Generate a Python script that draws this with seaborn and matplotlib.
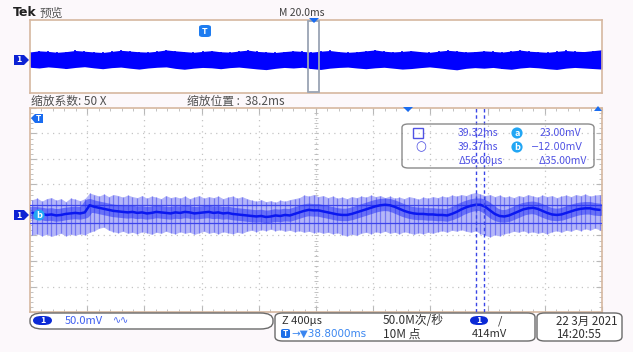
import numpy as np
import pandas as pd
import matplotlib
matplotlib.use("Agg")
import matplotlib.pyplot as plt
import seaborn as sns
from matplotlib.patches import FancyBboxPatch, Rectangle, Polygon

W, H = 633, 352

# ---------------- data ----------------
# zoomed window: 400 us/div, centred on 38.2 ms (times in ms, voltages in mV)
zoom_center_ms = 38.2
zoom_span_ms = 4.0
n_zoom = 120

spike_hi = [34, 37, 31, 36, 38, 33, 36, 30, 37, 35,
            32, 36, 47, 44, 41, 45, 40, 44, 42, 39,
            43, 40, 38, 42, 37, 41, 39, 36, 42, 38,
            40, 37, 41, 36, 39, 42, 37, 40, 38, 41,
            36, 39, 41, 37, 40, 36, 33, 31, 34, 30,
            32, 29, 33, 31, 34, 36, 38, 43, 41, 44,
            40, 42, 38, 41, 37, 39, 36, 40, 38, 41,
            39, 43, 40, 42, 38, 41, 37, 39, 36, 40,
            38, 35, 39, 37, 40, 38, 41, 39, 43, 41,
            44, 42, 46, 48, 45, 42, 44, 40, 43, 39,
            41, 38, 42, 40, 44, 41, 39, 43, 40, 42,
            38, 41, 43, 40, 44, 42, 45, 41, 43, 44]

spike_lo = [-36, -33, -37, -34, -38, -35, -32, -37, -34, -36,
            -33, -35, -30, -27, -22, -20, -26, -29, -31, -28,
            -32, -30, -33, -29, -31, -34, -30, -32, -28, -31,
            -33, -29, -32, -30, -34, -31, -28, -32, -30, -33,
            -29, -31, -33, -30, -32, -28, -26, -29, -25, -27,
            -24, -27, -25, -28, -26, -29, -27, -30, -28, -31,
            -29, -32, -30, -33, -31, -35, -37, -34, -36, -32,
            -30, -33, -29, -31, -28, -32, -30, -33, -29, -31,
            -34, -31, -33, -30, -32, -29, -27, -30, -26, -28,
            -25, -28, -30, -27, -33, -36, -39, -35, -37, -33,
            -31, -28, -30, -27, -31, -29, -32, -30, -33, -29,
            -27, -30, -26, -28, -24, -27, -23, -26, -22, -25]

trace_mid = [8, 7, 6, 4, 5, 3, 4, 6, 7, 8,
             7, 9, 23, 20, 18, 16, 14, 12, 11, 10,
             9, 10, 8, 9, 7, 8, 10, 9, 8, 7,
             9, 8, 10, 9, 7, 8, 9, 10, 8, 9,
             7, 8, 6, 5, 4, 3, 2, 1, 2, 0,
             1, 3, 2, 4, 3, 6, 9, 12, 14, 13,
             13, 11, 9, 7, 5, 4, 4, 6, 9, 12,
             15, 18, 21, 23, 24, 23, 20, 16, 12, 9,
             7, 6, 6, 5, 5, 4, 4, 3, 6, 10,
             15, 19, 22, 24, 24, 20, 13, 6, 2, 1,
             3, 7, 11, 15, 17, 18, 16, 12, 8, 5,
             4, 5, 8, 11, 14, 16, 17, 17, 15, 14]

# cursors
cursor_t = [39.32, 39.376]
cursor_v = [23.0, -12.0]

# overview record: 20 ms/div
ov_left_ms = -60.9
ov_span_ms = 200.0
ov_hi = [44, 50, 47, 42, 46, 52, 48, 44, 41, 47, 53, 49, 45, 43, 48, 55,
         50, 46, 42, 47, 51, 45, 43, 49, 54, 47, 44, 41, 46, 50, 47, 43,
         48, 52, 46, 42, 45, 50, 55, 48, 44, 47, 51, 46, 42, 48, 53, 49,
         44, 46, 50, 47, 43, 49, 54, 48, 45, 42, 47, 52, 48, 46, 51, 56]
ov_lo = [-40, -44, -38, -42, -47, -41, -37, -43, -48, -42, -39, -45, -50, -44, -40, -38,
         -46, -51, -45, -41, -43, -48, -42, -39, -44, -49, -53, -46, -41, -44, -40, -47,
         -52, -45, -41, -39, -44, -48, -43, -40, -45, -50, -47, -42, -38, -43, -49, -54,
         -46, -42, -45, -41, -47, -51, -44, -40, -43, -48, -52, -45, -41, -44, -47, -50]

# ---------------- style ----------------
BG = "#fcf8fb"
FRAME = "#d6b8a0"
GRID = "#c4c4c4"
TRACE = "#0a18f0"
LIGHT = "#b4b6f8"
SPIKE = "#6a6ef2"
READ = "#5052e4"

sns.set_theme(style="white")
plt.rcParams["font.family"] = ["Noto Sans CJK SC", "DejaVu Sans"]
plt.rcParams["axes.unicode_minus"] = False

fig = plt.figure(figsize=(W / 100, H / 100), dpi=100, facecolor=BG)


def fx(x):
    return x / W


def fy(y):
    return 1 - y / H


def rect(x0, y0, x1, y1):
    return [fx(x0), fy(y1), (x1 - x0) / W, (y1 - y0) / H]


def ftext(x, y, s, **kw):
    kw.setdefault("va", "center")
    kw.setdefault("ha", "left")
    return fig.text(fx(x), fy(y), s, **kw)


def fpoly(pts, **kw):
    p = Polygon([(fx(a), fy(b)) for a, b in pts], closed=True,
                transform=fig.transFigure, **kw)
    fig.patches.append(p)
    return p


def fbox(x0, y0, x1, y1, style="round,pad=0,rounding_size=0.012", **kw):
    p = FancyBboxPatch((fx(x0), fy(y1)), (x1 - x0) / W, (y1 - y0) / H,
                       boxstyle=style, transform=fig.transFigure, **kw)
    fig.patches.append(p)
    return p


# ---------------- overview ----------------
ov = fig.add_axes(rect(30, 20, 602, 93))
ov.set_facecolor("white")
ov_t = np.linspace(ov_left_ms, ov_left_ms + ov_span_ms, len(ov_hi))
ov_df = pd.DataFrame({"t": ov_t, "hi": ov_hi, "lo": ov_lo})
ov.fill_between(ov_df["t"], ov_df["lo"], ov_df["hi"], color="#0000ff", lw=0)
ov.vlines(ov_df["t"], ov_df["lo"], ov_df["hi"], color="#0000ff", lw=1.2)
ov.set_xlim(ov_left_ms, ov_left_ms + ov_span_ms)
ov.set_ylim(-181, 219)
ov.set_xticks([])
ov.set_yticks([])
for s in ov.spines.values():
    s.set_color(FRAME)
    s.set_linewidth(1.2)
ov.add_patch(Rectangle((zoom_center_ms - zoom_span_ms / 2, -178), zoom_span_ms, 392,
                       fill=False, ec="#9aa4b4", lw=1.3, zorder=5))

# ---------------- zoomed window ----------------
ax = fig.add_axes(rect(30, 108, 602, 312))
ax.set_facecolor("white")
t0 = zoom_center_ms - zoom_span_ms / 2
t = t0 + (np.arange(n_zoom) + 0.5) * zoom_span_ms / n_zoom
df = pd.DataFrame({"t": t, "hi": spike_hi, "lo": spike_lo, "mid": trace_mid})

y_top, y_bot = 213.7, -186.3
ax.set_xlim(t0, t0 + zoom_span_ms)
ax.set_ylim(y_bot, y_top)

# graticule
gx = t0 + np.arange(1, 10) * 0.4
gy = y_top - np.arange(1, 8) * 50
for v in gx:
    ax.axvline(v, color=GRID, lw=0.9, ls=(0, (1, 3.5)), zorder=0)
for v in gy:
    ax.axhline(v, color=GRID, lw=0.9, ls=(0, (1, 3.5)), zorder=0)
ax.set_xticks(np.append(gx, [t0, t0 + zoom_span_ms]))
ax.set_yticks(np.append(gy, [y_bot, y_top]))
ax.set_xticks(t0 + np.arange(0, 51) * 0.08, minor=True)
ax.set_yticks(y_top - np.arange(0, 41) * 10, minor=True)
ax.tick_params(which="both", direction="in", top=True, right=True, bottom=True, left=True,
               labelbottom=False, labelleft=False, color="#b8b8b8")
ax.tick_params(which="major", length=4, width=0.8)
ax.tick_params(which="minor", length=2.5, width=0.6)
for s in ax.spines.values():
    s.set_color(FRAME)
    s.set_linewidth(1.2)
# centre cross ticks
cx = zoom_center_ms
cy = y_top - 4 * 50
ax.scatter(t0 + np.arange(1, 50) * 0.08, np.full(49, cy), marker="|", s=12,
           color="#b8b8b8", lw=0.6, zorder=0)
ax.scatter(np.full(39, cx), y_top - np.arange(1, 40) * 10, marker="_", s=12,
           color="#b8b8b8", lw=0.6, zorder=0)

# waveform
ax.fill_between(df["t"], df["lo"], df["hi"], color=LIGHT, lw=0, zorder=2)
ax.vlines(df["t"], df["lo"], df["hi"], color=SPIKE, lw=0.9, alpha=0.85, zorder=3)
ax.axhline(cursor_v[0], color="#3c44ea", lw=0.9, zorder=4)
ax.axhline(cursor_v[1], color="#3c44ea", lw=0.9, zorder=4)
sns.lineplot(data=df, x="t", y="mid", ax=ax, color="#1e2cf6", lw=9, alpha=0.5, zorder=5)
sns.lineplot(data=df, x="t", y="mid", ax=ax, color=TRACE, lw=1.8, zorder=6)
ax.set_xlabel("")
ax.set_ylabel("")
for ct in cursor_t:
    ax.axvline(ct, color="#3a46e6", lw=1.0, ls=(0, (2.5, 2)), zorder=7)

# ---------------- header texts ----------------
ftext(13, 13, "Tek", fontsize=9, fontweight="bold", color="#202020", family=["DejaVu Sans"])
ftext(40, 13, "预览", fontsize=8.5, color="#555555")
ftext(279, 13, "M 20.0ms", fontsize=7.5, color="#404040")
ftext(31, 101, "缩放系数: 50 X", fontsize=8.5, color="#505050")
ftext(187, 101, "缩放位置 :  38.2ms", fontsize=8.5, color="#505050")

# markers: overview
fpoly([(14, 55), (24, 55), (29, 60), (24, 65), (14, 65)], fc="#0c22d4", ec="none")
ftext(19, 60, "1", fontsize=6.5, color="white", fontweight="bold", ha="center")
fbox(199, 25, 211, 37, fc="#1e7cf0", ec="none", style="round,pad=0,rounding_size=0.006")
ftext(205, 31, "T", fontsize=6.5, color="white", fontweight="bold", ha="center")
fpoly([(309, 18), (319, 18), (314, 23)], fc="#1a6cf0", ec="none")

# markers: zoomed window
fpoly([(14, 210), (24, 210), (29, 215), (24, 220), (14, 220)], fc="#0c22d4", ec="none")
ftext(19, 215, "1", fontsize=6.5, color="white", fontweight="bold", ha="center")
ftext(39, 215, "b", fontsize=6.5, color="white", fontweight="bold", ha="center",
      bbox=dict(boxstyle="circle,pad=0.12", fc="#22a6f4", ec="none"))
fpoly([(31, 118), (35, 114), (43, 114), (43, 123), (35, 123)], fc="#1a6cf0", ec="none")
ftext(38.5, 118.5, "T", fontsize=6, color="white", fontweight="bold", ha="center")
fpoly([(403, 107), (413, 107), (408, 112)], fc="#1a6cf0", ec="none")
fpoly([(594, 111), (602, 111), (598, 106)], fc="#1a6cf0", ec="none")

# cursor readout
fbox(402, 124, 594, 168, fc="none", ec="#8a8a8a", lw=1.0,
     style="round,pad=0,rounding_size=0.01")
fig.patches.append(Rectangle((fx(413), fy(138)), 10 / W, 10 / H, fill=False,
                             ec=READ, lw=1.0, transform=fig.transFigure))
ftext(421, 147, "○", fontsize=9, color=READ, ha="center", family=["DejaVu Sans"])
rd = dict(fontsize=7.5, color=READ)
ftext(498, 133, "39.32ms", ha="right", **rd)
ftext(498, 147, "39.37ms", ha="right", **rd)
ftext(503, 161, "Δ56.00µs", ha="right", **rd)
ftext(581, 133, "23.00mV", ha="right", **rd)
ftext(583, 147, "−12.00mV", ha="right", family=["DejaVu Sans"], fontsize=7, color=READ)
ftext(587, 161, "Δ35.00mV", ha="right", **rd)
for yy, ch in [(133, "a"), (147, "b")]:
    ftext(517, yy, ch, fontsize=6.5, color="white", fontweight="bold", ha="center",
          bbox=dict(boxstyle="circle,pad=0.12", fc="#22a6f4", ec="none"))

# ---------------- bottom status bar ----------------
fbox(30, 313, 273, 329, fc="white", ec="#6a6a6a", lw=1.0,
     style="round,pad=0,rounding_size=0.02")
fbox(275, 313, 535, 341, fc="white", ec="#6a6a6a", lw=1.0,
     style="round,pad=0,rounding_size=0.012")
fbox(537, 313, 622, 341, fc="white", ec="#6a6a6a", lw=1.0,
     style="round,pad=0,rounding_size=0.012")

fbox(33, 316, 52, 325, fc="#0b2ad6", ec="none", style="round,pad=0,rounding_size=0.013")
ftext(42.5, 320.5, "1", fontsize=6.5, color="white", fontweight="bold", ha="center")
ftext(65, 321, "50.0mV", fontsize=8, color="#3e5ef0")
ftext(113, 320, "∿∿", fontsize=7, color="#3e5ef0", family=["DejaVu Sans"])

ftext(282, 321, "Z 400µs", fontsize=8, color="#303030")
fbox(281, 329, 290, 338, fc="#1e70e8", ec="none", style="round,pad=0,rounding_size=0.004")
ftext(285.5, 333.5, "T", fontsize=6, color="white", fontweight="bold", ha="center")
ftext(291, 334, "→▼38.8000ms", fontsize=7.5, color="#3a86f0", family=["DejaVu Sans"])
ftext(383, 321, "50.0M次/秒", fontsize=8.5, color="#303030")
ftext(383, 334, "10M 点", fontsize=8.5, color="#303030")
fbox(470, 316, 488, 325, fc="#0b2ad6", ec="none", style="round,pad=0,rounding_size=0.013")
ftext(479, 320.5, "1", fontsize=6.5, color="white", fontweight="bold", ha="center")
ftext(498, 321, "/", fontsize=8, color="#303030")
ftext(472, 334, "414mV", fontsize=8, color="#303030")
ftext(556, 321, "22 3月 2021", fontsize=8.3, color="#303030")
ftext(556, 334, "14:20:55", fontsize=8.3, color="#303030")

fig.savefig("out.png", dpi=100, facecolor=BG)
